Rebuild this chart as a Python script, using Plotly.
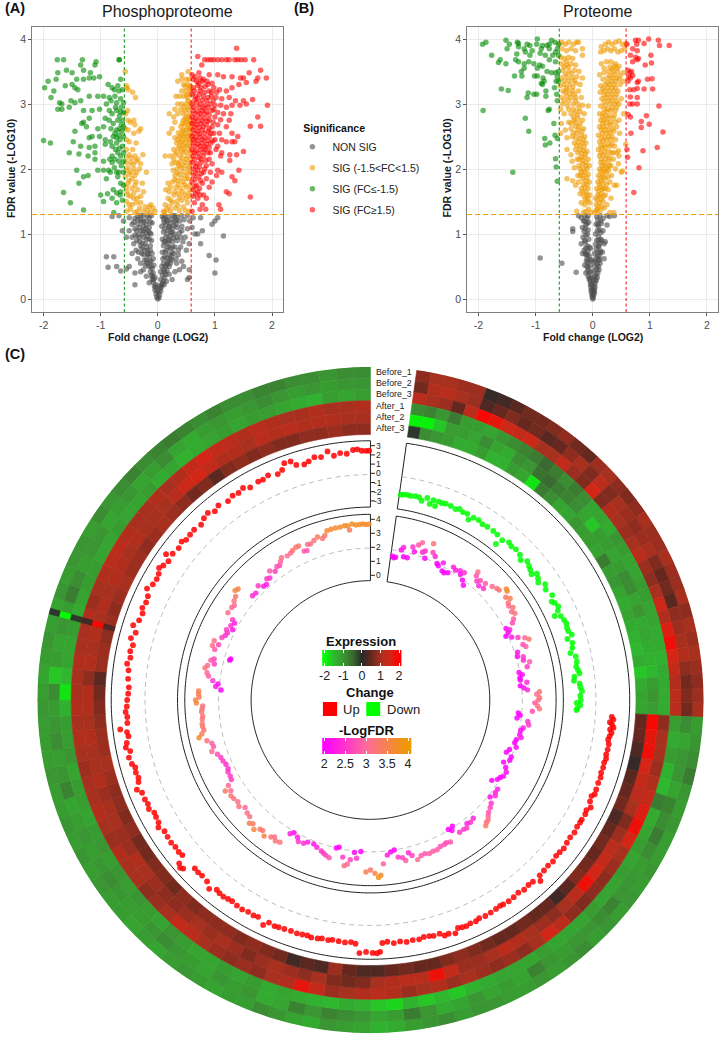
import numpy as np
import plotly.graph_objects as go

W, H = 720, 1038
FONT = "Liberation Sans"

# ---------- volcano data: flat x,y pairs ----------
A_grey = [0,0,.02,.02,-.02,.03,.03,.06,-.03,.08,.01,.1,-.01,.13,.05,.12,-.05,.14,.06,.18,-.06,.2,.03,.2,-.03,.22,.08,.24,-.08,.26,.1,.28,-.1,.3,.05,.3,-.05,.33,.12,.33,-.11,.36,.08,.37,-.08,.4,.14,.38,-.13,.42,.05,.42,.1,.45,-.1,.47,.16,.44,-.16,.5,.13,.5,.07,.5,-.07,.52,.2,.5,-.19,.55,
.25,.3,.3,.42,.38,.45,.45,.5,.2,.38,-.2,.35,-.25,.45,-.3,.42,.15,.27,-.15,.25,
-.12,.58,-.2,.6,-.3,.55,-.15,.65,-.25,.68,-.35,.62,-.1,.7,-.18,.75,-.28,.78,-.38,.75,-.45,.7,-.13,.82,-.22,.85,-.32,.88,-.42,.85,-.15,.92,-.25,.95,-.35,.98,-.45,.95,-.12,1,-.2,1.02,-.3,1.05,-.4,1.08,-.5,1.05,-.15,1.1,-.25,1.12,-.35,1.15,-.45,1.15,-.1,1.17,-.2,1.2,-.3,1.22,-.4,1.24,-.5,1.25,-.15,1.25,-.25,1.28,-.35,1.28,-.28,1.18,-.22,1.08,-.32,.95,-.2,.92,-.27,.86,-.34,.72,-.24,.75,-.18,.68,-.27,1,-.37,1.05,
.1,.55,.18,.58,.25,.6,.33,.55,.42,.58,.12,.65,.2,.68,.28,.7,.36,.68,.08,.72,.15,.75,.22,.78,.3,.8,.4,.8,.5,.75,.1,.82,.18,.85,.26,.88,.34,.9,.44,.88,.08,.92,.14,.95,.22,.97,.3,1,.38,1.02,.48,.95,.1,1.03,.18,1.06,.26,1.08,.34,1.1,.42,1.12,.52,1.08,.07,1.12,.14,1.15,.22,1.17,.3,1.2,.38,1.2,.46,1.22,.56,1.2,.1,1.23,.18,1.26,.26,1.28,.34,1.27,.42,1.28,.52,1.28,.62,1.25,.12,1.28,.22,.62,.15,.52,.25,.72,.32,.62,.2,.9,.13,.88,.25,1.02,.32,1.15,.2,1.12,.15,1.22,
-.9,.65,-.77,.65,-.87,.49,-.72,.5,-.65,.43,-.55,.46,-.5,.5,-.4,.4,-.4,.22,-.8,1.27,-.68,1.28,-.6,1.2,-.62,1.05,-.55,.95,.75,1.25,.78,1.05,.95,1.15,1,1.2,1.05,1.25,1.15,.97,.9,.67,1.02,.6,1,.4,.75,.85,.7,1,.55,.45,.55,.33,.52,.3,.55,.85,.6,1.1,.65,1]
A_grey_more = [.04,.16,-.04,.18,.07,.22,-.07,.3,.11,.22,-.09,.35,.12,.42,-.12,.5,.17,.55,-.14,.57,.22,.55,-.22,.52,.09,.62,-.08,.62,.16,.63,-.17,.7,.24,.66,-.23,.6,.13,.72,-.13,.75,.18,.8,-.2,.8,.26,.8,-.28,.7,.11,.88,-.11,.9,.19,.92,-.18,.97,.27,.94,-.25,1.05,.16,1,-.14,1.02,.23,1.03,-.3,.82,.12,1.08,-.17,1.05,.2,1.1,-.32,1.1,.28,1.13,-.2,1.14,.11,1.18,-.13,1.18,.25,1.22,-.25,1.2,.17,1.2,-.35,1.22,.33,1.22,-.18,1.28,.3,1.28,-.3,1.28,.08,1.27,-.11,1.28,.36,.75,.33,.95,.4,.95,.42,1.05,-.37,.9,-.4,.98,-.42,1.18]
A_orange = [.1,1.35,.16,1.38,.22,1.35,.3,1.4,.38,1.36,.45,1.42,.55,1.35,.13,1.45,.25,1.48,.33,1.5,.42,1.52,.52,1.48,.18,1.55,.28,1.6,.36,1.62,.46,1.6,.56,1.58,.14,1.68,.2,1.65,.32,1.72,.4,1.7,.5,1.72,.58,1.68,.18,1.78,.26,1.8,.35,1.82,.44,1.8,.54,1.85,.3,1.9,.38,1.92,.48,1.9,.57,1.95,.27,1.98,.34,2,.42,2.02,.52,2,.25,2.08,.32,2.1,.4,2.12,.48,2.1,.56,2.08,.13,2.2,.22,2.2,.3,2.22,.38,2.2,.44,2.25,.52,2.2,.58,2.25,.28,2.3,.36,2.32,.46,2.32,.55,2.35,.33,2.4,.4,2.42,.48,2.4,.57,2.42,.3,2.48,.38,2.5,.45,2.5,.52,2.5,.58,2.52,.2,2.55,.36,2.56,.43,2.58,.5,2.6,.56,2.6,.25,2.62,.4,2.65,.47,2.68,.54,2.68,.58,2.7,.3,2.72,.45,2.75,.52,2.76,.2,2.85,.28,2.8,.35,2.85,.5,2.82,.56,2.85,.3,2.92,.4,2.92,.48,2.9,.56,2.95,.35,3,.42,3,.5,3,.57,3.02,.32,3.12,.38,3.12,.45,3.12,.52,3.1,.56,3.15,.42,3.2,.5,3.2,.57,3.22,.45,3.3,.52,3.3,.35,3.35,.42,3.38,.5,3.38,.42,3.45,.53,3.5,.57,3.28,
-.05,1.35,-.08,1.4,-.13,1.33,-.18,1.36,-.25,1.35,-.32,1.4,-.4,1.33,-.48,1.38,-.55,1.35,-.12,1.45,-.22,1.42,-.3,1.48,-.38,1.48,-.45,1.45,-.55,1.5,-.3,1.58,-.42,1.55,-.52,1.6,-.25,1.65,-.35,1.68,-.45,1.7,-.55,1.72,-.27,1.78,-.38,1.8,-.5,1.82,-.4,1.9,-.5,1.92,-.57,1.88,-.2,1.95,-.32,2,-.42,2,-.52,2.02,-.3,2.08,-.38,2.12,-.48,2.1,-.56,2.1,-.26,2.22,-.4,2.2,-.5,2.22,-.44,2.3,-.55,2.3,-.38,2.4,-.5,2.42,-.55,2.45,-.33,2.58,-.42,2.55,-.52,2.6,-.3,2.62,-.4,2.68,-.48,2.72,-.57,2.62,-.42,2.75,-.52,2.75,-.56,2.85,-.53,2.9,-.39,3.1,-.44,3.18,-.52,3.22,-.55,3.28,-.57,3.5,-.54,3.25]
A_orange_more = [.12,1.33,.2,1.42,.35,1.44,.48,1.36,.23,1.52,.38,1.56,.5,1.55,.3,1.65,.43,1.65,.53,1.63,.22,1.72,.36,1.76,.47,1.76,.56,1.75,.3,1.84,.41,1.86,.5,1.85,.34,1.94,.44,1.96,.53,1.93,.38,2.05,.46,2.05,.55,2.03,.28,2.15,.36,2.08,.43,2.17,.5,2.15,.57,2.15,.33,2.26,.41,2.28,.49,2.27,.56,2.28,.38,2.36,.44,2.36,.52,2.36,.43,2.44,.5,2.45,.55,2.45,.35,2.45,.41,2.52,.48,2.54,.55,2.54,.45,2.6,.53,2.63,.58,2.62,.43,2.7,.5,2.72,.56,2.74,.48,2.78,.55,2.8,.44,2.86,.53,2.92,.46,2.96,.53,3.05,.5,3.14,.55,3.25,.48,3.27,.55,3.38,-.15,1.42,-.35,1.35,-.5,1.45,-.36,1.55,-.48,1.58,-.42,1.63,-.54,1.65,-.4,1.75,-.52,1.78,-.45,1.85,-.37,1.95,-.47,1.95,-.55,1.98,-.43,2.07,-.35,2.15,-.46,2.17,-.54,2.18]
A_red = [.7,3.73,.82,3.68,.88,3.68,.93,3.68,.98,3.68,1.05,3.68,1.12,3.68,1.2,3.68,1.25,3.68,1.35,3.68,1.4,3.68,1.46,3.68,1.53,3.68,1.68,3.68,1.38,3.86,.77,3.6,.6,3.45,.72,3.48,.9,3.45,1.05,3.45,1.15,3.42,1.3,3.42,1.45,3.4,1.5,3.4,1.6,3.48,1.8,3.52,1.75,3.4,1.9,3.4,1.72,3.35,1.55,3.33,
.62,3.38,.68,3.35,.74,3.4,.8,3.38,.86,3.35,.95,3.32,.62,3.25,.7,3.28,.76,3.25,.83,3.27,.9,3.2,.98,3.25,1.08,3.22,1.2,3.2,1.3,3.25,1.42,3.3,.6,3.15,.66,3.12,.73,3.15,.8,3.12,.88,3.1,.94,3.12,1.02,3.1,1.12,3.08,1.25,3.1,1.36,3.05,1.5,3.05,1.66,3.07,1.92,2.98,1.55,3,.6,3,.68,3.02,.75,3,.83,2.98,.92,3,1,2.98,1.1,2.98,1.2,2.95,1.3,2.98,1.44,2.98,.62,2.9,.7,2.88,.78,2.9,.86,2.88,.95,2.9,1.05,2.87,1.15,2.85,1.28,2.85,.6,2.8,.66,2.78,.74,2.8,.82,2.78,.9,2.76,1,2.8,1.1,2.76,1.25,2.75,1.75,2.8,.6,2.7,.68,2.68,.76,2.7,.85,2.68,.95,2.65,1.05,2.68,1.2,2.65,1.62,2.66,1.8,2.66,.62,2.6,.7,2.58,.78,2.6,.88,2.58,.98,2.55,1.08,2.55,1.3,2.55,.6,2.5,.66,2.48,.74,2.5,.82,2.48,.9,2.5,1,2.45,1.12,2.45,1.4,2.5,.62,2.4,.7,2.38,.78,2.4,.85,2.38,.93,2.4,1.05,2.35,1.2,2.42,1.3,2.42,1.35,2.42,.6,2.3,.67,2.28,.75,2.3,.83,2.3,.92,2.25,1.02,2.3,1.12,2.25,1.26,2.22,1.38,2.22,1.5,2.27,.62,2.2,.72,2.18,.8,2.2,.9,2.15,1.1,2.2,1.26,2.13,.6,2.1,.68,2.08,.76,2.1,.85,2.05,.95,2.08,1.05,1.98,1.12,1.95,1.3,1.88,1.42,1.98,.62,2,.7,1.98,.8,1.95,.92,1.95,1.03,1.9,1.35,1.82,.63,1.9,.72,1.88,.85,1.85,.95,1.8,.6,1.8,.68,1.75,.78,1.78,.9,1.72,.62,1.68,.7,1.65,.8,1.6,1.2,1.65,1.25,1.62,.62,1.58,.7,1.55,.85,1.55,1.62,1.57,.64,1.48,.78,1.45,1.07,1.45,.74,1.38,.84,1.38,1.1,1.38,.6,1.35]
A_red_more = [.65,3.42,.72,3.32,.78,3.35,.88,3.3,.64,3.2,.74,3.2,.82,3.18,.94,3.18,1.03,3.18,.65,3.07,.7,3.08,.78,3.06,.86,3.05,.97,3.05,.63,2.95,.72,2.95,.8,2.94,.88,2.95,.98,2.92,.65,2.85,.74,2.85,.82,2.85,.9,2.83,.63,2.74,.7,2.74,.78,2.74,.87,2.73,.97,2.72,.64,2.65,.72,2.64,.8,2.65,.9,2.62,.65,2.55,.73,2.54,.82,2.55,.93,2.55,.63,2.45,.7,2.44,.78,2.45,.87,2.44,.96,2.43,.65,2.35,.74,2.35,.82,2.34,.9,2.33,.64,2.25,.71,2.24,.8,2.26,.88,2.25,.64,2.15,.75,2.15,.84,2.13,.66,2.04,.73,2.03,.82,2,.66,1.94,.76,1.93,.65,1.84,.75,1.82,.65,1.73,.73,1.7,.66,1.62,.74,1.6]
A_green = [-1.76,3.68,-1.65,3.68,-1.32,3.68,-1.08,3.65,-1.1,3.6,-.68,3.68,-.67,3.68,-1.35,3.6,-1.6,3.52,-1.75,3.48,-1.5,3.48,-1.3,3.52,-1.18,3.48,-1.98,3.25,-1.92,3.35,-1.78,3.38,-1.5,3.3,-1.42,3.38,-1.3,3.38,-1.2,3.4,-1.12,3.4,-1.02,3.42,-.65,3.38,-1.82,3.2,-1.62,3.28,-1.45,3.25,-1.4,3.22,-.87,3.3,-.8,3.25,-.7,3.28,-.62,3.22,-1.87,3.1,-1.72,3.02,-1.68,3,-1.52,3.05,-1.45,3.02,-1.35,3.05,-1.2,3.12,-1.05,3.12,-.95,3.12,-.85,3.1,-.75,3.12,-.65,3.08,-1.75,2.92,-1.68,2.92,-1.55,2.95,-1.3,2.9,-1.15,2.9,-1.02,2.92,-.9,3,-.82,3.05,-.72,3.02,-.6,3.02,-.85,2.9,-.72,2.9,-.65,2.88,-.6,2.87,-1.2,2.78,-1.3,2.72,-1.33,2.7,-.92,2.78,-.85,2.75,-.7,2.75,-.62,2.75,-1.25,2.65,-1.45,2.58,-1.05,2.62,-.95,2.65,-.82,2.62,-.67,2.62,-.6,2.65,-1.2,2.48,-1.15,2.5,-1.02,2.5,-.92,2.45,-.78,2.5,-.68,2.52,-.6,2.5,-2,2.44,-1.88,2.4,-1.48,2.42,-1.35,2.35,-1.2,2.33,-1.1,2.35,-.92,2.38,-.83,2.42,-.72,2.4,-.62,2.35,-1.55,2.25,-1.38,2.23,-1.22,2.2,-1.1,2.25,-.8,2.2,-.7,2.25,-.6,2.25,-1.1,2.15,-.95,2.12,-.8,2.1,-.68,2.12,-.6,2.12,-1.42,1.98,-1.3,1.88,-1.22,1.9,-1.05,1.98,-.95,1.98,-.83,1.95,-.72,1.95,-.6,1.95,-1.38,1.78,-.9,1.85,-.65,1.78,-.6,1.75,-1.65,1.64,-1,1.6,-.88,1.62,-.72,1.63,-.65,1.65,-.95,1.5,-.8,1.55,-.72,1.48,-.62,1.52,-1.53,1.48,-1.3,1.37,-.77,1.33]
A_green_more = [-.68,3.2,-.76,3.22,-.64,2.95,-.74,2.95,-.8,2.85,-.67,2.82,-.78,2.7,-.64,2.68,-.72,2.6,-.63,2.58,-.75,2.55,-.66,2.45,-.72,2.48,-.8,2.35,-.67,2.32,-.74,2.3,-.65,2.2,-.75,2.15,-.84,2.15,-.64,2.05,-.76,2.02,-.86,1.98,-.68,1.95,-.7,1.88,-.66,1.6,-.78,1.68]
B_grey = [0,0,.01,.02,-.01,.04,.02,.07,-.02,.09,.01,.12,-.01,.15,.03,.14,-.03,.18,.02,.2,-.02,.23,.04,.24,-.04,.27,.01,.28,.05,.3,-.05,.32,-.02,.33,.03,.35,.06,.37,-.06,.4,-.03,.42,.02,.43,.07,.45,-.07,.48,.04,.5,-.04,.52,.08,.53,-.08,.56,.02,.57,-.02,.6,.1,.6,-.1,.62,.06,.63,-.06,.66,.12,.66,-.12,.68,.03,.7,.08,.72,-.08,.74,.14,.74,-.15,.75,-.04,.78,.1,.8,-.1,.82,.05,.84,.13,.86,-.13,.88,.07,.9,-.07,.92,.16,.9,-.17,.95,.1,.96,-.12,.98,.05,1,.14,1.02,-.15,1.04,.08,1.05,-.08,1.06,.18,1.05,-.18,1.1,.1,1.12,-.12,1.14,.06,1.15,.15,1.16,-.07,1.18,-.16,1.2,.09,1.22,.18,1.24,-.1,1.24,-.2,1.25,.07,1.27,.13,1.28,-.08,1.28,-.14,1.28,.11,.45,.13,.55,-.12,.4,-.14,.52,.17,.72,-.18,.7,.2,.62,.2,.85,-.2,.85,-.92,.63,-.54,.55,-.29,.41,-.35,1.08,-.35,1.04,.25,1.14,.22,.88,.25,1.28,.3,1.27,.38,1.28,-.25,1.28]
B_grey_more = [0,.06,.03,.1,-.03,.13,.04,.18,-.04,.22,.06,.28,-.06,.3,.08,.33,-.08,.35,.09,.4,-.09,.44,.1,.5,-.1,.5,.05,.58,-.05,.6,.12,.6,-.11,.58,.09,.66,-.09,.68,.13,.72,-.13,.7,.06,.77,-.06,.8,.11,.82,-.12,.78,.14,.92,-.14,.9,.1,.9,-.09,1,.12,1.06,-.13,1.08,.09,1.15,-.1,1.16,.14,1.2,-.14,1.2]
B_orange = [.04,1.33,.08,1.38,.13,1.35,.2,1.4,.3,1.33,.37,1.33,.06,1.45,.12,1.48,.18,1.5,.25,1.45,.32,1.55,.05,1.55,.09,1.6,.15,1.62,.22,1.6,.07,1.7,.13,1.72,.19,1.7,.27,1.68,.38,1.75,.42,1.75,.09,1.8,.15,1.82,.22,1.85,.3,1.8,.1,1.9,.17,1.92,.24,1.95,.33,1.9,.12,2,.18,2,.25,2.02,.32,2.05,.4,2,.5,1.95,.52,1.97,.14,2.1,.2,2.1,.28,2.12,.36,2.15,.45,2.08,.12,2.2,.18,2.22,.25,2.2,.33,2.25,.42,2.25,.46,2.2,.1,2.3,.16,2.32,.22,2.33,.3,2.35,.38,2.35,.45,2.28,.12,2.42,.18,2.43,.25,2.45,.32,2.45,.4,2.45,.1,2.52,.17,2.55,.24,2.55,.3,2.56,.37,2.58,.47,2.55,.58,2.38,.12,2.65,.18,2.65,.25,2.66,.32,2.68,.42,2.65,.14,2.75,.2,2.75,.27,2.78,.36,2.78,.46,2.75,.12,2.85,.18,2.85,.24,2.88,.32,2.9,.4,2.9,.54,2.85,.14,2.97,.22,2.98,.3,3,.38,3,.46,3,.16,3.08,.24,3.1,.32,3.1,.4,3.1,.5,3.08,.13,3.18,.2,3.2,.28,3.2,.36,3.2,.44,3.2,.14,3.28,.22,3.3,.3,3.3,.38,3.3,.48,3.3,.18,3.38,.26,3.4,.34,3.4,.42,3.4,.54,3.35,.2,3.48,.28,3.5,.36,3.5,.44,3.5,.54,3.48,.12,3.45,.2,3.55,.3,3.57,.38,3.58,.46,3.58,.15,3.62,.24,3.65,.32,3.65,.4,3.62,.14,3.8,.2,3.82,.26,3.85,.32,3.82,.38,3.85,.44,3.8,.5,3.82,.56,3.85,.15,3.88,.22,3.92,.28,3.95,.34,3.92,.4,3.95,.46,3.97,.52,3.92,.58,3.93,
-.03,1.33,-.07,1.38,-.12,1.35,-.16,1.33,-.28,1.35,-.05,1.48,-.1,1.5,-.14,1.45,-.2,1.48,-.05,1.6,-.1,1.6,-.15,1.58,-.22,1.62,-.08,1.7,-.14,1.72,-.2,1.7,-.3,1.75,-.06,1.8,-.12,1.82,-.18,1.85,-.25,1.8,-.35,1.82,-.08,1.92,-.14,1.95,-.2,1.95,-.26,1.9,-.45,1.85,-.06,2.05,-.12,2.05,-.18,2.08,-.24,2.05,-.32,2.02,-.08,2.15,-.14,2.18,-.2,2.18,-.27,2.15,-.36,2.12,-.1,2.27,-.16,2.28,-.22,2.3,-.3,2.3,-.38,2.22,-.12,2.4,-.18,2.4,-.25,2.42,-.32,2.4,-.45,2.3,-.14,2.5,-.2,2.52,-.28,2.55,-.36,2.5,-.45,2.48,-.56,2.55,-.16,2.62,-.24,2.65,-.3,2.66,-.38,2.62,-.48,2.6,-.18,2.75,-.26,2.78,-.33,2.75,-.42,2.72,-.55,2.7,-.15,2.85,-.22,2.88,-.3,2.88,-.38,2.85,-.5,2.85,-.56,2.92,-.08,2.97,-.18,2.98,-.26,3,-.34,3,-.44,2.98,-.53,3,-.2,3.1,-.3,3.1,-.38,3.1,-.46,3.12,-.55,3.1,-.25,3.2,-.35,3.2,-.44,3.22,-.52,3.2,-.22,3.3,-.3,3.32,-.4,3.3,-.5,3.3,-.57,3.28,-.18,3.4,-.28,3.42,-.36,3.4,-.45,3.42,-.55,3.4,-.24,3.5,-.32,3.52,-.42,3.5,-.52,3.52,-.3,3.6,-.38,3.62,-.46,3.6,-.55,3.62,-.35,3.7,-.42,3.72,-.5,3.7,-.56,3.72,-.18,3.75,-.18,3.85,-.3,3.82,-.38,3.85,-.46,3.82,-.54,3.85,-.28,3.95,-.34,3.92,-.42,3.95,-.48,3.92,-.54,3.95,-.25,3.95,-.58,3.93]
B_orange_more = [.06,1.36,.1,1.42,.16,1.42,.08,1.52,.15,1.54,.12,1.58,.19,1.58,.1,1.66,.16,1.68,.22,1.7,.12,1.76,.18,1.78,.24,1.76,.13,1.86,.19,1.88,.27,1.88,.14,1.96,.21,1.97,.28,1.98,.16,2.05,.22,2.06,.29,2.05,.15,2.15,.22,2.16,.3,2.17,.14,2.25,.21,2.27,.28,2.27,.36,2.25,.14,2.36,.2,2.37,.27,2.38,.34,2.38,.15,2.48,.21,2.48,.28,2.5,.34,2.5,.15,2.6,.21,2.6,.28,2.6,.35,2.62,.17,2.7,.24,2.72,.31,2.72,.4,2.72,.17,2.8,.23,2.82,.3,2.82,.38,2.83,.2,2.92,.27,2.92,.34,2.94,.42,2.95,.2,3.04,.27,3.05,.34,3.05,.42,3.04,.2,3.14,.26,3.15,.34,3.15,.42,3.15,.18,3.24,.26,3.25,.33,3.25,.4,3.25,.26,3.33,.33,3.35,.4,3.35,.47,3.38,.3,3.44,.38,3.45,.48,3.44,.34,3.54,.42,3.55,-.08,1.55,-.13,1.53,-.12,1.65,-.18,1.65,-.1,1.76,-.16,1.77,-.1,1.87,-.16,1.9,-.22,1.9,-.1,2,-.16,2,-.22,2,-.12,2.1,-.18,2.13,-.24,2.15,-.13,2.23,-.2,2.24,-.26,2.25,-.15,2.34,-.22,2.36,-.28,2.36,-.16,2.45,-.23,2.47,-.3,2.48,-.19,2.58,-.26,2.6,-.34,2.56,-.22,2.7,-.3,2.72,-.38,2.7,-.27,2.83,-.34,2.8,-.24,2.94,-.34,2.92,-.42,2.92,-.3,3.05,-.42,3.05,-.5,3.05,-.32,3.15,-.4,3.16,-.48,3.18,-.35,3.26,-.46,3.25,-.32,3.36,-.42,3.36,-.5,3.36,-.37,3.47,-.48,3.46,-.42,3.57,-.5,3.57,-.46,3.66]
B_green = [-1.93,3.92,-1.87,3.95,-1.52,3.98,-1.5,3.85,-1.46,3.92,-1.3,3.93,-1.3,3.88,-1.32,3.95,-1.2,3.85,-1.15,3.92,-1.1,3.9,-.98,3.92,-.97,4,-.88,3.9,-.8,3.9,-.76,3.92,-.72,3.98,-.66,3.95,-.62,3.85,-.6,3.92,-1.06,3.82,-.9,3.85,-.76,3.85,-.65,3.8,-1.77,3.75,-1.33,3.77,-1.18,3.8,-1.1,3.75,-.92,3.78,-.83,3.75,-.7,3.75,-.6,3.75,-1.62,3.68,-1.65,3.64,-1.52,3.62,-1.3,3.65,-1.35,3.68,-1.2,3.62,-1.12,3.65,-1.03,3.62,-.93,3.6,-.76,3.68,-.65,3.65,-1.25,3.5,-1.2,3.55,-.97,3.55,-.88,3.58,-.8,3.5,-.72,3.48,-.65,3.48,-.6,3.5,-1.37,3.43,-1.24,3.43,-1.02,3.43,-.97,3.43,-.87,3.4,-.62,3.42,-.9,3.32,-.88,3.3,-.85,3.35,-.64,3.35,-.6,3.35,-1.6,3.23,-1.48,3.21,-1.13,3.17,-1.15,3.1,-1.03,3.15,-.98,3.15,-.82,3.2,-.82,3.12,-.67,3.25,-.63,3.15,-.62,3.05,-1.92,2.9,-.78,2.9,-.76,2.92,-1.18,2.78,-1.12,2.58,-.68,2.7,-.66,2.52,-.84,2.47,-.83,2.37,-.75,2.4,-.62,2.47,-.65,2.16,-.64,2.03,-1.4,1.95,-.62,1.81]
B_red = [.75,3.98,.8,3.98,.77,3.92,.9,3.93,.98,4,1.15,3.98,1.17,3.9,1.34,3.9,.6,3.92,.7,3.85,.78,3.82,.66,3.75,.75,3.72,.8,3.7,.78,3.68,1.02,3.75,.7,3.65,.92,3.6,1.03,3.63,.62,3.52,.65,3.48,.68,3.5,.63,3.42,.66,3.4,.7,3.44,.96,3.38,1.04,3.39,.62,3.35,.78,3.33,.8,3.35,.65,3.22,.72,3.22,.78,3.24,.9,3.23,1.05,3.23,.66,3.11,.78,3.1,.65,3,.7,3,.78,3,1.16,2.97,.62,2.84,.66,2.8,.85,2.73,.94,2.82,.85,2.64,.99,2.69,1.23,2.57,.67,2.55,.6,2.3,.61,2.18,.88,2.28,1.13,2.33,.81,2.02,.72,1.64]
LEGEND_NAMES = ["NON SIG", "SIG (-1.5<FC<1.5)", "SIG (FC≤-1.5)", "SIG (FC≥1.5)"]
SIG_COLORS = ["#4d4d4d", "#EE9A00", "#008B00", "#FF0000"]
FC_TICKS = [-2, -1, 0, 1, 2]
FDR_AXIS_TICKS = [0, 1, 2, 3, 4]

# ---------- circular tracks: flat angle (deg clockwise from top), value pairs ----------
track_up = [94,1.8,94.6,2,95.3,1.65,95.8,1.9,96.5,2.1,97,1.75,97.8,1.95,98.6,1.8,99.5,1.7,100.5,1.85,101.8,1.85,103,1.8,104,1.9,105,1.8,106.2,1.85,107.5,1.8,108.6,1.9,110,1.85,111.6,1.9,112.8,1.95,113.5,1.7,114.8,1.8,116,2.15,117,1.85,118,1.95,119.5,1.9,120.3,1.9,121.5,1.85,123,1.95,124.5,1.85,126,1.9,127.5,2,128.8,1.9,130,1.85,131.5,2,133,1.9,134.5,1.95,136,2.0,136.8,2.5,138.2,2,139.5,1.95,141,2.05,142.5,1.9,144,2,145.5,2.05,147,2,147.8,1.95,149,2,150.5,2.05,152,2.1,153.5,2,154.5,2.15,155.9,2.1,157,2.2,158,2.15,159,2.05,160,2.5,161.5,2.3,162.5,2.35,163.5,2.0,165,2.05,166,1.95,167.3,1.9,168.5,2.05,170,2,171.5,2.1,173,1.95,174.5,2.05,176,1.85,177.2,1.95,177.8,2.9,178.5,3.05,179.5,3,181,2.9,182.5,3.05,183.5,2.05,184.6,1.9,186,2,187.5,1.95,189,1.9,190,2,191.5,1.95,192.5,2.05,194,2.1,195,2,196.2,2.05,197.5,2.1,199,2.05,200.6,2.1,202,2.15,203,2.2,204.5,2.1,205.5,2.6,207.4,2.05,208.5,2.15,210,2.1,211.5,2.2,213,2.15,214.5,2.05,215.6,2.1,216.8,2.2,218,2.15,219,2.05,220.5,2.5,222,2.05,223.8,1.95,225,2,226.2,1.95,228,2.9,228.6,3.1,229.5,2.85,230.5,2,231.6,2.1,233,2.05,234.4,2.15,236,2.1,237.5,2.05,239,2.4,240,2.1,241.4,2.05,242.5,2,243.8,2.35,245,2.2,246.2,2.3,247.9,2.3,249,2.7,250.5,2.25,251.5,2.1,252.8,2.2,254,2.1,255,2.35,256.6,2.5,258,2.2,259,2.6,260,2.4,261.5,2.1,262.5,2.2,263.3,2.9,264.6,2.05,266,2.0,267.2,2.15,268.5,2,270,1.95,271.5,1.85,273,1.8,275,1.95,277,2,278.5,2.25,280,2,281.5,2.15,283,2,284.5,2.4,286,2.05,287.5,2.55,289,2.1,290.8,2,292,2.25,293.5,2.1,295,2.2,296.5,2.65,298,2.3,299.5,2.2,300.8,2.3,302,2.6,303,2.35,304.5,2.15,305.5,2.8,306.5,2.25,308.4,2.1,310,2.3,311,2.05,312.5,2.1,314,2.15,316,2,317.5,2.3,319,2.45,320.5,2.1,322,2.35,324.4,2.1,326,2.3,327.5,2.2,329,2.4,330.5,2.05,332.8,2.2,334,2.15,335.5,2.35,337.7,2.05,339,2.3,340,2.9,341.5,2.85,342.5,2.3,344.3,2.1,345.5,2.3,347,2.6,348.5,2.45,350.2,2.93,351.5,2.35,353,2.55,354.5,2.4,356,2.75,357,2.8,358,2.62,359,2.6,359.7,2.6]
track_down = [8.4,-1.95,9.2,-1.9,10.2,-1.85,11.2,-1.9,12.4,-1.82,13.5,-1.85,14.4,-2.15,15.7,-1.7,16.8,-2.25,17.5,-1.75,18.4,-2.3,19,-1.72,20,-1.75,21,-1.65,22.5,-1.68,24,-1.8,25,-1.6,26.2,-1.75,27.5,-1.7,28.5,-2.2,29.5,-1.75,31,-1.7,32.5,-1.85,34,-1.8,36,-1.8,37.5,-1.85,38.8,-2.75,39.5,-2,41.3,-1.7,42.5,-1.85,44,-1.75,45.8,-1.85,47,-2.2,48.5,-1.75,49.8,-1.95,50.8,-2.1,52,-2.3,52.8,-1.8,54,-2.0,55,-2.25,56.5,-1.72,57.8,-2.0,60,-1.7,61.5,-2.1,62.2,-1.9,63.5,-1.7,64.5,-1.95,65.5,-2.5,66.2,-1.9,67.5,-1.75,68.6,-1.65,69.8,-1.75,70.8,-1.75,72,-1.5,72.8,-2.1,74.2,-1.7,75.5,-1.85,76.8,-2.2,78,-1.7,79.5,-1.7,80.8,-1.85,81.8,-1.72,82.7,-1.6,83.5,-2.2,84.6,-2.3,85.5,-1.7,86.5,-1.65,87.5,-1.5,88.8,-1.7,90,-1.65,90.8,-2.1,91.4,-1.7,92.3,-2.0,92.8,-2.1]
track_fdr = [8.7,1.55,9.3,1.45,10,1.5,11.6,2.1,12.3,2.3,13,1.65,14.5,1.65,15.5,2.5,16.5,2.2,17.3,2.75,18.3,3,19.4,2.35,20.2,2.5,21,2,22,3.2,23,2.6,24.3,2.4,26,2,26.8,1.9,28,2.25,29,1.7,30,1.65,31.3,1.8,32,2.35,33.3,2.25,34.8,2.4,35.6,2.2,36.4,2.45,37.5,1.95,39,1.7,40,3.1,40.5,2.8,41.8,2.55,42.6,2.75,43.5,2.4,44.6,2.85,45.4,2.5,47,3.05,48.6,3.2,49.5,3.25,50.7,3.7,51.5,3.65,52.8,3.3,54,3.5,54.8,3.2,55.8,3.1,57,3.3,58,3.05,59,3.2,60.5,2.9,61.5,2.7,62.2,2.1,63.2,2.3,64,2.1,64.8,1.85,66,2.2,67,2.6,68,3.05,69,3.3,70,2.75,71,2.9,72,2.2,73.5,2.1,74.2,2.5,75.4,2.45,76.5,2.85,78,2.6,79.5,1.95,80.5,2.15,81.5,1.95,82.4,1.95,83.5,2.4,84.6,1.9,85.5,2.15,86.3,2.4,87.2,3.25,88,3.05,89.2,3.25,90,3.15,91,2.9,92,3.1,93,3.25,94,2.75,95,1.75,95.8,1.9,97,1.7,97.8,2.5,99,2.6,100.4,2.25,101.5,2.1,103,2.1,104,2.25,105.2,1.95,106.5,1.9,108,2.1,109.6,1.7,111,1.55,112,2.0,113.4,2.0,115,1.65,116.5,1.95,118,2.15,119.8,2.1,120.8,1.95,122,1.85,123.5,1.55,125,2.25,126.5,2.25,127.5,2.4,129,2.15,130.5,2.5,131.9,2.65,133.5,2.8,134.5,2.95,135.5,3.15,136.5,3.2,137.5,3.35,139,2.35,140.7,2.45,142,2.35,143,2.6,144.2,2.55,146,2.55,147,1.9,148,2.15,149,1.95,150.6,2.8,152,2.7,153,2.75,154.5,2.75,156,2.87,157.5,2.85,159,2.9,160.5,2.8,162,2.85,163.5,3.05,165,2.65,166,2.4,167.6,2.9,168.5,2.65,170,2.55,171,2,172.4,2.1,173.8,2.3,175.5,2.9,176.6,3.7,177.4,3.85,178.5,3.55,180,3.3,181.5,3.45,183.6,2,185,2.5,186,2.1,187.2,2.65,188,3,189,3.15,190,2.55,192,1.9,193,2,194.7,2.8,196,2.7,197,2.6,198,2.5,200,2.35,201.5,2.2,203.8,2.25,205,2.45,207,2.5,208,2.25,210,2.1,211,2.3,212.5,3.2,214,3.3,215,3.1,216,3.25,218,3.5,219.5,3.25,220.5,3.3,222,3.6,223.5,3.35,224.5,3.5,226,3.15,227.5,3.1,229.4,2.95,231,3.25,232.5,3.1,234.2,3.2,235.5,3.25,237,3.05,237.9,3.4,239,3.0,240.2,2.6,241.5,2.55,243.2,2.55,244.2,2.45,246,2.45,247.5,2.55,249,2.6,250.5,2.75,252,3.07,253.5,2.85,254.8,2.9,256,3.2,257.6,3.7,258.6,3.45,259.8,3.25,261,3.3,262,3.3,263.5,3.25,264.5,3.2,266,3.25,267,3.2,268,3.15,269,3.6,270,3.65,271,3.4,272,3.45,273,3.45,273.8,1.85,275,2.25,276,2.1,277,2.5,278.4,2.85,279.5,3,281,3.2,282,3.05,283,2.6,284,2.9,284.7,2.7,285.8,1.6,286.4,1.55,288,2.85,289,3.1,290,2.7,290.8,3.1,292.8,2.67,294,2.5,295.2,2.45,296,2.6,297,2.2,298,2.45,299.5,2.3,300.2,2.55,301.5,3.1,303.7,3.07,304.8,3,306,3.2,307.5,3.3,309,3.6,310,3.5,311.5,2.4,313,2.35,315.5,2.6,316.8,2.3,318,2.25,319.5,2.55,320.5,2.45,322,2.85,323.5,2.6,325,2.8,326,2.75,327,2.95,328,3.15,330,3.05,331.5,3.1,332.5,3.2,334,3.3,335,3.3,336,2.8,337,2.75,338,3.15,339,3.1,340.5,3.25,342,3.4,343.5,3.2,344.5,3.35,345.6,3.65,347,3.68,348.5,3.7,350,3.7,351.5,3.75,352.5,3.72,353,3.4,354,3.8,355.3,3.7,356.5,3.72,357.5,3.75,358.5,3.7,359.5,3.72]

# ---------- heat rings: expression per column, outer row to inner row ----------
down_before_1 = [.8,1,1,.9,.9,.1,.2,.4,.6,.6,.7,.8,.6,.5,.9,1,.8,.7,.8,1,.9,.9,1,.9,.9,1,.8,1,.9,1,.9,.8,.9,1]
down_before_2 = [.6,1.1,1.2,1,.9,.3,.5,.7,.5,.6,.4,.5,.8,1,.7,1.2,.7,1,.9,.8,.9,1,.7,.5,.6,.4,.8,.9,1,1.1,.8,.6,.7,.6]
down_before_3 = [1.2,1,.9,.5,1.2,1.9,1.7,1.4,1.3,1.4,1,1,1.3,.9,.7,1.5,.7,1.1,1,.9,1,1.2,.9,.8,1,1.4,1.1,1.6,1.8,1.5,1.3,1.1,1.2,1.2]
down_after_1 = [-.9,-.8,-1,-.7,-1.1,-1.1,-1.2,-1,-.9,-.8,-.7,-.5,-.7,-.9,-.7,-.9,-1.2,-1.2,-1.3,-1,-1.1,-1.2,-1.2,-1.1,-1.1,-1.2,-1.2,-1.3,-1.3,-1.4,-1.3,-1.3,-1.3,-1.3]
down_after_2 = [-1.9,-1.9,-1.6,-1.1,-1.1,-1.2,-.9,-1.2,-1.3,-.9,-1,-.6,-.5,-.7,-.8,-.9,-1.2,-1.6,-1.1,-1.1,-1.2,-1.1,-.9,-.9,-1.2,-1,-1.3,-1.2,-1.3,-1.4,-1.5,-1.1,-1,-1.1]
down_after_3 = [-.1,-.9,-1,-1.1,-1.3,-1.3,-1.1,-1.4,-1.4,-1.1,-1.2,-1.8,-.7,-.9,-1.2,-1.2,-1,-1.1,-1.1,-1.2,-.7,-1.1,-1,-1.2,-1.3,-1.2,-1.3,-1.4,-1.5,-1.3,-1.6,-1.3,-1.2,-1.2]

up_before_1 = [-1.1,-1,-.9,-.7,-1,-1.1,-1,-1.1,-1.1,-1,-1.1,-1,-1.1,-1,-1.1,-.9,-1,-1.1,-1,-1.1,-1.1,-1,-1,-1.1,-.9,-1,-1.1,-1.3,-1.4,-1.2,-1.1,-1,-1.3,-1.2,-1,-.9,-1.1,-1.1,-1.2,-1.1,-1,-1.1,-1.2,-1.1,-1.2,-1.1,-1.1,-1,-1.1,-1,-1.1,-1,-1.1,-1.1,-1,-1.1,-1.1,-1.1,-1,-1.1,-1.2,-1.1,-1,-1.1,-1.2,-1,-1.1,-1,-1,-1.1,-.9,-1,-.9,-.8,-.9,-.8,-.7,-.8,-.9,-.8,-.9,-.9,-.8,-.8,-.9,-.9,-1,-.9,-.9]
up_before_2 = [-.9,-1.2,-1,-1,-1.2,-.8,-.9,-.7,-.9,-1.1,-1,-1,-.8,-.9,-1,-1,-1.1,-1,-.8,-1.2,-1.1,-1.2,-1,-1.2,-1.3,-1,-.7,-1.1,-1.2,-1,-.9,-.8,-1,-.8,-1.2,-1.3,-1,-1.1,-1,-1.2,-1.1,-1,-.9,-1,-1.1,-1.1,-1,-.9,-1,-1.1,-1,-1.1,-1.2,-.8,-1,-1.1,-.9,-1,-1.1,-.9,-1.6,-1.1,-1.2,-1,-1.1,-.7,-.9,-1.1,-1,-1,-1.2,-1.1,-1,-1.2,-1.1,-.9,-1.2,-1.3,-1.1,-1,-1.1,-1,-.9,-1,-1.1,-1,-1.1,-1,-1]
up_before_3 = [-1.1,-1.3,-1.1,-1.4,-1.5,-.7,-1.3,-1.2,-1.1,-1.2,-1.1,-1.2,-1.2,-1.1,-1.2,-1.2,-1.2,-1.1,-1.2,-1.2,-1.2,-1.3,-1.4,-1.6,-1.5,-1.6,-1.4,-1.7,-1.6,-1.4,-1.3,-1.5,-1.4,-1.3,-1.2,-1.3,-1.1,-1.2,-1.1,-1.2,-1.2,-1.1,-1,-1.2,-1.1,-1,-1.1,-1,-1.1,-1,-1.1,-1.2,-1.1,-1.1,-1.2,-1,-1.1,-1.1,-1.4,-1.8,-1.5,-1.2,-1.2,-1.1,-1.3,-1.2,-1.1,-1.1,-1.2,-1.2,-1.1,-1.2,-1.2,-1.1,-1.3,-1.2,-1.4,-1.3,-1.2,-1.1,-1.2,-1.1,-1.1,-1.2,-1.3,-1.4,-1.1,-1.2,-1.1]
up_after_1 = [.8,1,1,.9,1.1,1.3,1.6,1.8,1.5,1,.9,.8,.8,.7,.8,1.2,1.5,1,.8,.9,.8,.9,1,.9,1.1,1,.9,1.1,1.2,1.1,1,.9,1.3,1.7,1.1,1,.8,.9,.8,.9,1,1.2,1.3,1,.9,.8,1,1,1.1,.9,1,1.1,1,1,.9,1,1.1,1,1.1,1,1,1.1,1,1,1.1,.9,1,1.1,1.2,1.2,1.1,1,1,1.1,1,1.1,1.3,1.5,1.3,1.2,1.1,1.2,1.1,1,1,1.1,1,1,1.1]
up_after_2 = [1.9,1.7,1.8,1.5,1.3,1.2,1,.7,.9,1.2,1.3,1.5,1.8,1.2,1,.8,.9,1,1.1,1.2,1,.9,.9,1.3,1.8,1.2,1.2,1.1,1,.7,.6,.7,1,.8,.9,1,.9,.7,.9,1,.9,1,.9,.8,.8,.9,1,1.1,.9,.9,1,1,.9,1.1,1,1,1.1,1,1.1,1.1,.8,1.1,1,1.1,1,1.1,1,1.1,1.1,1,1.1,1,1,1,1.2,1.4,1.5,1.3,1.1,1.1,1,1.2,1.1,1.2,1.1,1.1,1.1,1,1]
up_after_3 = [.5,.5,.3,.1,.4,.5,.6,.3,.5,.6,.5,.6,.7,.4,.2,.5,.5,.6,.5,.5,.6,.7,.8,.7,.5,.5,.6,.5,.3,.3,.5,.9,.3,.4,.2,.6,.7,.8,.7,.8,.8,.8,.7,.8,.6,.7,.7,.6,.6,.8,.7,.8,.8,.9,1,.9,.9,.8,.7,.6,.4,.9,.9,.8,.9,.8,.9,1,.9,.9,.8,.9,1,.9,.8,.6,.7,.4,.7,.8,.7,.8,.7,.7,.8,.8,.9,.8,.8]
thin_theta = [285.5]
thin_rows = [[-.1], [-2], [-.1], [.2], [1.9], [.3]]
ROW_NAMES = ["Before_1", "Before_2", "Before_3", "After_1", "After_2", "After_3"]

TICKS_UP = [3, 2, 1, 0, -1, -2, -3]
TICKS_FDR = [4, 3, 2, 1, 0]
EXPR_TICKS = [-2, -1, 0, 1, 2]
FDR_TICKS = [2, 2.5, 3, 3.5, 4]

# ---------- geometry ----------
CX, CY, R = 369.5, 700.0, 335.0
def px(x): return x / W
def py(y): return 1 - y / H
def r_fc(v): return 226.7 + 9.2 * np.asarray(v, float)
def r_fdr(v): return 124.7 + 14.0 * np.asarray(v, float)

EXPR_SCALE = [[0, "#00FF00"], [.125, "#2FB82F"], [.25, "#3A9632"], [.375, "#3A6A30"], [.5, "#2A2A2A"],
              [.625, "#66281E"], [.75, "#A8301F"], [.875, "#D42616"], [1, "#FF0000"]]
FDR_SCALE = [[0, "#FF00FF"], [.5, "#FF6A9A"], [1, "#EE9A00"]]

fig = go.Figure()

def volcano(xa, ya, flats, show):
    for name, col, d in zip(LEGEND_NAMES, SIG_COLORS, flats):
        fig.add_trace(go.Scatter(x=d[::2], y=d[1::2], mode="markers", name=name, legendgroup=name,
                                 showlegend=show, xaxis=xa, yaxis=ya, cliponaxis=True,
                                 marker=dict(color=col, size=5.5, opacity=.6, line=dict(width=0))))

volcano("x", "y", [A_grey + A_grey_more, A_orange + A_orange_more, A_green + A_green_more, A_red + A_red_more], True)
volcano("x2", "y2", [B_grey + B_grey_more, B_orange + B_orange_more, B_green, B_red], False)

# heat rings
HEAT_IN = 267.0
ROW_H = (R - HEAT_IN) / 6
down_rows = [down_before_1, down_before_2, down_before_3, down_after_1, down_after_2, down_after_3]
up_rows = [up_before_1, up_before_2, up_before_3, up_after_1, up_after_2, up_after_3]
th, base, val, wid = [], [], [], []
for i in range(6):
    b = R - (i + 1) * ROW_H
    for j, v in enumerate(down_rows[i]):
        th.append(8 + 2.5 * (j + .5)); base.append(b); val.append(v); wid.append(2.5)
    for j, v in enumerate(up_rows[i]):
        th.append(93 + 3 * (j + .5)); base.append(b); val.append(v); wid.append(3)
    for t, v in zip(thin_theta, thin_rows[i]):
        th.append(t); base.append(b); val.append(v); wid.append(1)
fig.add_trace(go.Barpolar(theta=th, r=[ROW_H] * len(th), base=base, width=wid, subplot="polar", showlegend=False,
                          marker=dict(color=val, colorscale=EXPR_SCALE, cmin=-2, cmax=2,
                                      line=dict(width=.6, color=val, colorscale=EXPR_SCALE, cmin=-2, cmax=2))))

# track frames and dashed reference circles
def frame(r0, r1):
    a = np.linspace(8, 360, 353)
    t = list(a) + list(a[::-1]) + [8]
    r = [r1] * len(a) + [r0] * len(a) + [r1]
    fig.add_trace(go.Scatterpolar(theta=t, r=r, mode="lines", subplot="polar", showlegend=False,
                                  line=dict(color="#222222", width=1)))
def dashed(r0):
    a = np.linspace(8, 360, 353)
    fig.add_trace(go.Scatterpolar(theta=a, r=[r0] * len(a), mode="lines", subplot="polar", showlegend=False,
                                  line=dict(color="#BBBBBB", width=1, dash="5px,4px")))
frame(194, 260.7); frame(120, 186.7)
dashed(float(r_fc(0))); dashed(float(r_fdr(2)))

fig.add_trace(go.Scatterpolar(theta=track_up[::2], r=r_fc(track_up[1::2]), mode="markers", subplot="polar", showlegend=False,
                              marker=dict(color="#FF0000", size=5.8, opacity=.85, line=dict(width=0))))
fig.add_trace(go.Scatterpolar(theta=track_down[::2], r=r_fc(track_down[1::2]), mode="markers", subplot="polar", showlegend=False,
                              marker=dict(color="#00FF00", size=5.8, opacity=.85, line=dict(width=0))))
fig.add_trace(go.Scatterpolar(theta=track_fdr[::2], r=r_fdr(track_fdr[1::2]), mode="markers", subplot="polar", showlegend=False,
                              marker=dict(color=track_fdr[1::2], colorscale=FDR_SCALE, cmin=2, cmax=4, size=5.4, opacity=.85, line=dict(width=0))))

# colour keys
grad_e = np.linspace(-2.13, 2.13, 120)
fig.add_trace(go.Heatmap(x=grad_e, y=[0, 1], z=[grad_e, grad_e], colorscale=EXPR_SCALE, zmin=-2, zmax=2,
                         showscale=False, xaxis="x3", yaxis="y3", hoverinfo="skip"))
grad_f = np.linspace(1.95, 4.08, 120)
fig.add_trace(go.Heatmap(x=grad_f, y=[0, 1], z=[grad_f, grad_f], colorscale=FDR_SCALE, zmin=2, zmax=4,
                         showscale=False, xaxis="x4", yaxis="y4", hoverinfo="skip"))

TICKFONT = dict(family=FONT, size=10.5, color="#4d4d4d")
def panel_axes(x0, x1):
    xa = dict(domain=[px(x0), px(x1)], range=[-2.2, 2.2], tickvals=FC_TICKS, ticktext=[str(t) for t in FC_TICKS], ticks="outside", ticklen=3,
              tickcolor="#555555", tickwidth=1, tickfont=TICKFONT, showgrid=True, gridcolor="#EBEBEB", gridwidth=1,
              zeroline=False, showline=True, linecolor="#7f7f7f", linewidth=1, mirror=True)
    ya = dict(domain=[py(312), py(26.7)], range=[-.2, 4.19], tickvals=FDR_AXIS_TICKS, ticktext=[str(t) for t in FDR_AXIS_TICKS], ticks="outside", ticklen=3,
              tickcolor="#555555", tickwidth=1, tickfont=TICKFONT, showgrid=True, gridcolor="#EBEBEB", gridwidth=1,
              zeroline=False, showline=True, linecolor="#7f7f7f", linewidth=1, mirror=True)
    return xa, ya
xa1, ya1 = panel_axes(29.3, 282)
xa2, ya2 = panel_axes(466.7, 719.3)
ya2["anchor"] = "x2"; xa2["anchor"] = "y2"

KEYFONT = dict(family=FONT, size=12.5, color="#222222")
def key_axes(x0, x1, y0, y1, rng, ticks):
    xa = dict(domain=[px(x0), px(x1)], range=rng, tickvals=ticks, ticktext=[str(t) for t in ticks], ticks="inside", ticklen=3,
              tickcolor="white", tickwidth=1, mirror="ticks", tickfont=KEYFONT, showgrid=False, zeroline=False, showline=False)
    ya = dict(domain=[py(y1), py(y0)], range=[0, 1], visible=False)
    return xa, ya
xa3, ya3 = key_axes(321, 400.7, 650, 666, [-2.13, 2.13], EXPR_TICKS)
xa4, ya4 = key_axes(321, 410.7, 738, 754, [1.95, 4.08], FDR_TICKS)
xa3["anchor"] = "y3"; ya3["anchor"] = "x3"; xa4["anchor"] = "y4"; ya4["anchor"] = "x4"

ann = []
def text(t, x, y, size, color="#111111", bold=False, xanchor="center", angle=0):
    ann.append(dict(text=f"<b>{t}</b>" if bold else t, x=px(x), y=py(y), xref="paper", yref="paper", showarrow=False,
                    xanchor=xanchor, yanchor="middle", textangle=angle, font=dict(family=FONT, size=size, color=color)))

text("(A)", 0, 8, 14.5, bold=True, xanchor="left")
text("(B)", 291, 8, 14.5, bold=True, xanchor="left")
text("(C)", 0, 354, 14.5, bold=True, xanchor="left")
text("Phosphoproteome", 165, 12, 16, "#1a1a1a")
text("Proteome", 598, 12, 16, "#1a1a1a")
for cx_, yx_ in ((155.5, 8), (593, 446)):
    text("Fold change (LOG2)", cx_, 337, 10.5, "#1a1a1a", bold=True)
    text("FDR value (-LOG10)", yx_, 168, 10.5, "#1a1a1a", bold=True, angle=-90)
for i, nm in enumerate(ROW_NAMES):
    text(nm, 373.5, 372 + i * 11.25, 8.8, "#222222", xanchor="left")
text("Expression", 360.5, 641, 13, bold=True)
text("Change", 369, 692, 13, bold=True)
text("-LogFDR", 366, 730, 13, bold=True)
text("Up", 340, 709.5, 13, "#222222", xanchor="left")
text("Down", 384, 709.5, 13, "#222222", xanchor="left")

shapes = []
def vline(xr, yr, x, color):
    shapes.append(dict(type="line", xref=xr, yref=yr, x0=x, x1=x, y0=-.2, y1=4.19, line=dict(color=color, width=1.1, dash="3px,2.5px")))
for xr, yr in (("x", "y"), ("x2", "y2")):
    vline(xr, yr, -.585, "#1E9A1E")
    vline(xr, yr, .585, "#FF2020")
    shapes.append(dict(type="line", xref=xr, yref=yr, x0=-2.2, x1=2.2, y0=1.3, y1=1.3, line=dict(color="#EE9A00", width=1.1, dash="5px,3px")))

for v in TICKS_UP:
    y = CY - float(r_fc(v))
    shapes.append(dict(type="line", xref="paper", yref="paper", x0=px(370), x1=px(374), y0=py(y), y1=py(y), line=dict(color="#222222", width=1)))
    text(str(v), 377.5, y, 8.5, "#222222")
for v in TICKS_FDR:
    y = CY - float(r_fdr(v))
    shapes.append(dict(type="line", xref="paper", yref="paper", x0=px(370), x1=px(374), y0=py(y), y1=py(y), line=dict(color="#222222", width=1)))
    text(str(v), 377.5, y, 8.5, "#222222")
shapes.append(dict(type="rect", xref="paper", yref="paper", x0=px(321.7), x1=px(336), y0=py(716), y1=py(702), fillcolor="#FF0000", line=dict(width=0)))
shapes.append(dict(type="rect", xref="paper", yref="paper", x0=px(365.3), x1=px(379.3), y0=py(716), y1=py(702), fillcolor="#00FF00", line=dict(width=0)))

fig.update_layout(
    width=W, height=H, margin=dict(l=0, r=0, t=0, b=0), paper_bgcolor="white", plot_bgcolor="white",
    font=dict(family=FONT), annotations=ann, shapes=shapes,
    xaxis=xa1, yaxis=ya1, xaxis2=xa2, yaxis2=ya2, xaxis3=xa3, yaxis3=ya3, xaxis4=xa4, yaxis4=ya4,
    legend=dict(x=px(291), y=py(118.5), xanchor="left", yanchor="top", tracegroupgap=2, itemsizing="trace", bgcolor="rgba(0,0,0,0)",
                font=dict(family=FONT, size=10.5, color="#222222"),
                title=dict(text="&nbsp;&nbsp;&nbsp;<b>Significance</b>", font=dict(family=FONT, size=10.5, color="#111111"))),
    polar=dict(domain=dict(x=[px(CX - R), px(CX + R)], y=[py(CY + R), py(CY - R)]), bgcolor="rgba(0,0,0,0)",
               bargap=0, barmode="overlay",
               angularaxis=dict(visible=False, rotation=90, direction="clockwise", thetaunit="degrees"),
               radialaxis=dict(visible=False, range=[0, R])),
)
fig.write_html("out.html", config={"displayModeBar": False}, post_script="document.body.style.margin='0';")
